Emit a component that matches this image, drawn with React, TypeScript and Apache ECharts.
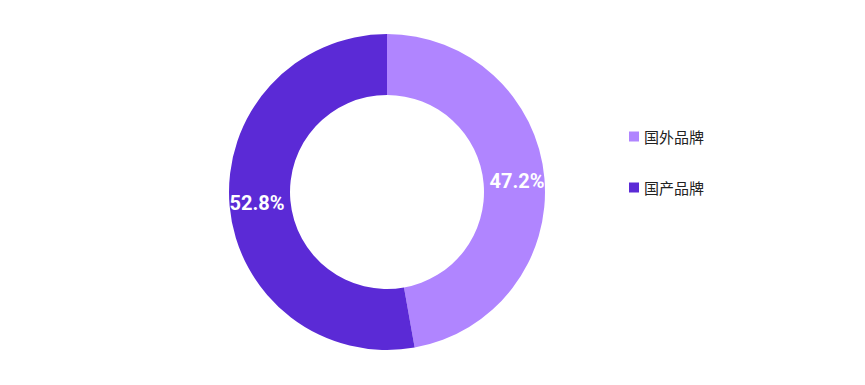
import React, { useEffect, useRef } from "react";
import * as echarts from "echarts";

const categories = ["国外品牌", "国产品牌"];
const values = [47.2, 52.8];
const colors = ["#B085FF", "#5B2AD6"];

export default function App() {
  const ref = useRef<HTMLDivElement>(null);
  useEffect(() => {
    document.body.style.margin = "0";
    const chart = echarts.init(ref.current!, null, { renderer: "svg" });
    chart.setOption({
      animation: false,
      color: colors,
      legend: {
        orient: "vertical",
        left: 624,
        top: 124,
        itemWidth: 10,
        itemHeight: 10,
        itemGap: 36,
        icon: "rect",
        textStyle: { fontSize: 15, color: "#222", fontFamily: "Noto Sans CJK SC" },
        data: categories,
      },
      series: [
        {
          type: "pie",
          center: [387, 192],
          radius: [97, 158],
          startAngle: 90,
          clockwise: true,
          label: {
            show: true,
            position: "inside",
            formatter: (p: any) => p.value.toFixed(1) + "%",
            color: "#fff",
            fontSize: 20,
            fontWeight: "bold",
            fontFamily: "Roboto",
          },
          labelLine: { show: false },
          emphasis: { disabled: true },
          data: categories.map((c, i) => ({ name: c, value: values[i] })),
        },
      ],
    });
    return () => chart.dispose();
  }, []);
  return <div ref={ref} style={{ width: 865, height: 385 }} />;
}
